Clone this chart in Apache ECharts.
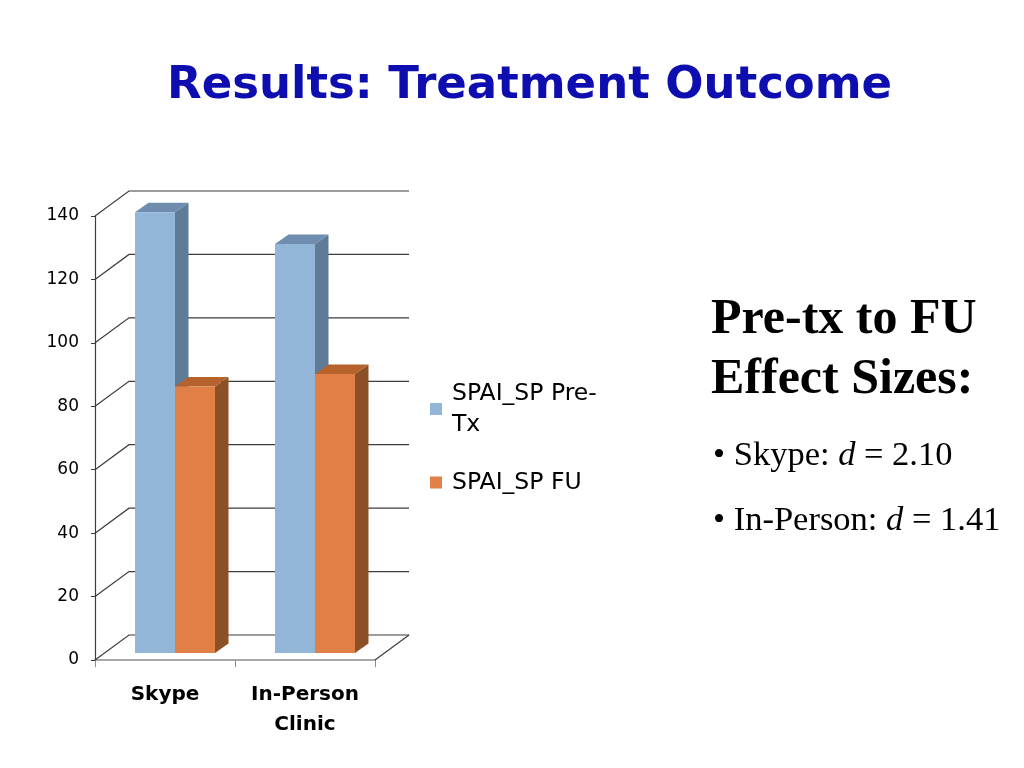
<!DOCTYPE html>
<html><head><meta charset="utf-8">
<script src="https://cdn.jsdelivr.net/npm/echarts@6/dist/echarts.min.js"></script>
<style>html,body{margin:0;padding:0;background:#fff}#c{width:1024px;height:768px}</style>
</head><body><div id="c"></div>
<script>
// ---- data ----
const categories = ['Skype', 'In-Person\nClinic'];
const seriesNames = ['SPAI_SP Pre-Tx', 'SPAI_SP FU'];
const preTx = [139, 129];
const fu = [84, 88];
const yTicks = [0, 20, 40, 60, 80, 100, 120, 140];
const titleText = 'Results: Treatment Outcome';
const effectHeading = ['Pre-tx to FU', 'Effect Sizes:'];
const effectGroups = ['Skype', 'In-Person'];
const effectValues = ['2.10', '1.41'];

// ---- styling / 3D geometry ----
const WALL_DX = 34, WALL_DY = -25;
const BAR_W = 40, FRONT_DX = 10, FRONT_DY = -7, DEPTH_DX = 13.5, DEPTH_DY = -9.5;
const BLUE = {front: '#93B5D7', side: '#5E7B98', top: '#6F8EAF'};
const ORANGE = {front: '#E08046', side: '#8C5027', top: '#B5622C'};
const SANS = "'DejaVu Sans', sans-serif";
const SERIF = "'Liberation Serif', 'DejaVu Serif', serif";

function wallRender(params, api) {
  const cs = params.coordSys;
  const v = api.value(1);
  const y = api.coord([0, v])[1];
  const x0 = cs.x, x1 = cs.x + cs.width;
  const children = [{
    type: 'polyline',
    shape: {points: [[x0, y], [x0 + WALL_DX, y + WALL_DY], [x1 + WALL_DX, y + WALL_DY]]},
    style: {stroke: '#3c3c3c', lineWidth: 1.2, fill: null}
  }];
  if (v === 0) {
    children.push({
      type: 'line',
      shape: {x1: x1, y1: y, x2: x1 + WALL_DX, y2: y + WALL_DY},
      style: {stroke: '#3c3c3c', lineWidth: 1.2}
    });
  }
  return {type: 'group', children: children};
}

function barRender(k, colors) {
  return function (params, api) {
    const cat = api.value(0), v = api.value(1);
    const b = api.coord([cat, 0]), t = api.coord([cat, v]);
    const xl = b[0] + FRONT_DX + (k - 1) * BAR_W, xr = xl + BAR_W;
    const yb = b[1] + FRONT_DY, yt = t[1] + FRONT_DY;
    return {type: 'group', children: [
      {type: 'polygon', shape: {points: [[xr, yt], [xr + DEPTH_DX, yt + DEPTH_DY], [xr + DEPTH_DX, yb + DEPTH_DY], [xr, yb]]}, style: {fill: colors.side}},
      {type: 'polygon', shape: {points: [[xl, yt], [xl + DEPTH_DX, yt + DEPTH_DY], [xr + DEPTH_DX, yt + DEPTH_DY], [xr, yt]]}, style: {fill: colors.top}},
      {type: 'rect', shape: {x: xl, y: yt, width: BAR_W, height: yb - yt}, style: {fill: colors.front}}
    ]};
  };
}

const chart = echarts.init(document.getElementById('c'), null, {renderer: 'canvas'});
const legendText = {fontFamily: SANS, fontSize: 23.5, color: '#000', lineHeight: 31};
const bulletStyle = function (i, y) {
  return {type: 'text', x: 713, y: y, style: {
    text: '• ' + effectGroups[i] + ': {i|d} = ' + effectValues[i],
    fontFamily: SERIF, fontSize: 34.5, fill: '#000', textVerticalAlign: 'middle',
    rich: {i: {fontFamily: SERIF, fontSize: 34.5, fontStyle: 'italic', fill: '#000'}}}};
};
const option = {
  backgroundColor: '#fff',
  animation: false,
  title: {
    text: titleText, left: 162, top: 59,
    textStyle: {fontFamily: SANS, fontWeight: 'bold', fontSize: 45, color: '#0E0EB0'}
  },
  legend: [
    {
      data: [{name: seriesNames[0], textStyle: Object.assign({}, legendText, {padding: [31, 0, 0, 5]})}],
      formatter: function () { return 'SPAI_SP Pre-\nTx'; },
      left: 430, top: 362.5, padding: 0, icon: 'rect', itemWidth: 12, itemHeight: 12,
      textStyle: legendText
    },
    {
      data: [{name: seriesNames[1], textStyle: Object.assign({}, legendText, {padding: [0, 0, 0, 5]})}],
      left: 430, top: 467, padding: 0, icon: 'rect', itemWidth: 12, itemHeight: 12,
      textStyle: legendText
    }
  ],
  grid: {left: 95, top: 216, width: 280, height: 444, containLabel: false},
  xAxis: {
    type: 'category', data: categories,
    axisLine: {show: true, lineStyle: {color: '#8c8c8c', width: 1.5}},
    axisTick: {show: true, length: 7, lineStyle: {color: '#8c8c8c'}},
    axisLabel: {interval: 0, fontFamily: SANS, fontWeight: 'bold', fontSize: 20, color: '#000', margin: 20, lineHeight: 30}
  },
  yAxis: {
    type: 'value', min: 0, max: 140, interval: 20,
    axisLine: {show: true, lineStyle: {color: '#3c3c3c', width: 1.2}},
    axisTick: {show: true, length: 4, lineStyle: {color: '#3c3c3c'}},
    axisLabel: {fontFamily: SANS, fontSize: 17, color: '#000', margin: 16},
    splitLine: {show: false}
  },
  graphic: [
    {type: 'text', x: 711, y: 320, style: {text: effectHeading[0], fontFamily: SERIF, fontWeight: 'bold', fontSize: 50, fill: '#000', textVerticalAlign: 'middle'}},
    {type: 'text', x: 711, y: 380, style: {text: effectHeading[1], fontFamily: SERIF, fontWeight: 'bold', fontSize: 50, fill: '#000', textVerticalAlign: 'middle'}},
    bulletStyle(0, 456),
    bulletStyle(1, 521)
  ],
  series: [
    {
      type: 'custom', name: 'walls', silent: true, z: 1,
      renderItem: wallRender,
      data: yTicks.map(function (v) { return [0, v]; })
    },
    {
      type: 'custom', name: seriesNames[0], z: 2,
      itemStyle: {color: BLUE.front},
      renderItem: barRender(0, BLUE),
      data: preTx.map(function (v, i) { return [i, v]; })
    },
    {
      type: 'custom', name: seriesNames[1], z: 2,
      itemStyle: {color: ORANGE.front},
      renderItem: barRender(1, ORANGE),
      data: fu.map(function (v, i) { return [i, v]; })
    }
  ]
};
chart.setOption(option);
</script>
</body></html>
